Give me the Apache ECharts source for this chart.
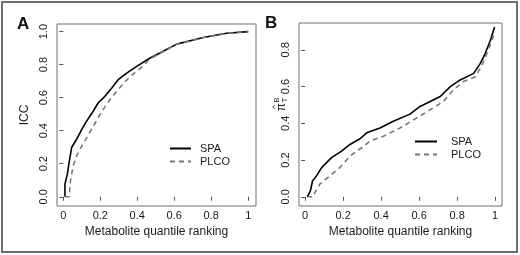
<!DOCTYPE html>
<html>
<head>
<meta charset="utf-8">
<script src="https://cdn.jsdelivr.net/npm/echarts@6/dist/echarts.min.js"></script>
<style>
html, body { margin: 0; padding: 0; background: #fff; }
#chart { width: 520px; height: 255px; }
</style>
</head>
<body>
<div id="chart"></div>
<script>
// panel A: ICC against metabolite quantile ranking
var spaA = [
  [0.009, 0], [0.009, 0.077], [0.022, 0.137], [0.033, 0.217], [0.045, 0.298],
  [0.072, 0.348], [0.1, 0.408], [0.126, 0.458], [0.162, 0.518], [0.189, 0.569],
  [0.225, 0.608], [0.262, 0.659], [0.297, 0.709], [0.343, 0.749], [0.397, 0.789],
  [0.469, 0.84], [0.523, 0.87], [0.613, 0.924], [0.757, 0.964], [0.883, 0.99], [1, 1]
];
var plcoA = [
  [0.009, 0], [0.033, 0], [0.036, 0.077], [0.045, 0.137], [0.054, 0.187],
  [0.072, 0.247], [0.1, 0.307], [0.137, 0.378], [0.173, 0.448], [0.209, 0.518],
  [0.246, 0.578], [0.282, 0.629], [0.327, 0.689], [0.373, 0.739], [0.419, 0.78],
  [0.469, 0.835], [0.523, 0.868], [0.613, 0.924], [0.757, 0.964], [0.883, 0.99], [1, 1]
];
// panel B: pi hat B T against metabolite quantile ranking
var spaB = [
  [0.011, 0], [0.028, 0.032], [0.039, 0.086], [0.06, 0.114], [0.087, 0.159],
  [0.139, 0.213], [0.192, 0.249], [0.236, 0.285], [0.289, 0.316], [0.324, 0.348],
  [0.394, 0.375], [0.464, 0.411], [0.552, 0.45], [0.605, 0.492], [0.711, 0.546],
  [0.764, 0.6], [0.816, 0.636], [0.887, 0.672], [0.922, 0.726], [0.948, 0.781],
  [0.975, 0.852], [0.997, 0.924]
];
var plcoB = [
  [0.011, 0], [0.044, 0], [0.051, 0.023], [0.078, 0.069], [0.13, 0.114],
  [0.183, 0.159], [0.236, 0.222], [0.298, 0.267], [0.341, 0.303], [0.412, 0.33],
  [0.5, 0.375], [0.605, 0.44], [0.728, 0.519], [0.781, 0.582], [0.834, 0.627],
  [0.896, 0.654], [0.931, 0.717], [0.96, 0.789], [0.984, 0.852], [0.996, 0.897]
];
var xTicks = [0, 0.2, 0.4, 0.6, 0.8, 1];
var yTicksA = [0, 0.2, 0.4, 0.6, 0.8, 1];
var yTicksB = [0, 0.2, 0.4, 0.6, 0.8];

var font = 'Liberation Sans, Arial, sans-serif';
var ink = '#1a1a1a';
var boxColor = '#707070';

var chart = echarts.init(document.getElementById('chart'));

function xAxisFor(grid, mn, mx) {
  return {
    gridIndex: grid, type: 'value', min: mn, max: mx,
    name: 'Metabolite quantile ranking', nameLocation: 'middle', nameGap: 16,
    nameTextStyle: { fontFamily: font, fontSize: 12, color: ink },
    axisLine: { show: false },
    splitLine: { show: false },
    axisTick: { show: true, customValues: xTicks, length: 4, lineStyle: { color: '#555' } },
    axisLabel: {
      customValues: xTicks, margin: 4, fontFamily: font, fontSize: 11, color: ink,
      formatter: function (v) { return (v === 0 || v === 1) ? String(v) : v.toFixed(1); }
    }
  };
}
function yAxisFor(grid, mn, mx, ticks, name) {
  return {
    gridIndex: grid, type: 'value', min: mn, max: mx,
    name: name, nameLocation: 'middle', nameGap: 26, nameRotate: 90,
    nameTextStyle: { fontFamily: font, fontSize: 12, color: ink },
    axisLine: { show: false },
    splitLine: { show: false },
    axisTick: { show: true, customValues: ticks, length: 4, lineStyle: { color: '#555' } },
    axisLabel: {
      customValues: ticks, rotate: 90, margin: 8, fontFamily: font, fontSize: 11, color: ink,
      formatter: function (v) { return v.toFixed(1); }
    }
  };
}

var option = {
  backgroundColor: '#fff',
  animation: false,
  grid: [
    { left: 57, top: 24, width: 199, height: 182, show: true, borderColor: boxColor, borderWidth: 1, backgroundColor: 'transparent' },
    { left: 299, top: 23, width: 203, height: 183, show: true, borderColor: boxColor, borderWidth: 1, backgroundColor: 'transparent' }
  ],
  xAxis: [xAxisFor(0, -0.034, 1.042), xAxisFor(1, -0.032, 1.036)],
  yAxis: [yAxisFor(0, -0.056, 1.046, yTicksA, 'ICC'), yAxisFor(1, -0.05, 0.946, yTicksB, '')],
  legend: [
    {
      data: ['SPA', 'PLCO'], orient: 'vertical', left: 164, top: 138,
      itemWidth: 21, itemHeight: 10, itemGap: 2, selectedMode: false,
      itemStyle: { opacity: 0 },
      textStyle: { fontFamily: font, fontSize: 11, color: ink, padding: [0, 0, 0, 4] }
    },
    {
      data: ['SPA', 'PLCO'], orient: 'vertical', left: 409, top: 131,
      itemWidth: 22, itemHeight: 10, itemGap: 2, selectedMode: false,
      itemStyle: { opacity: 0 },
      textStyle: { fontFamily: font, fontSize: 11, color: ink, padding: [0, 0, 0, 9] }
    }
  ],
  series: [
    { name: 'SPA', type: 'line', xAxisIndex: 0, yAxisIndex: 0, data: spaA, symbol: 'none', z: 3,
      lineStyle: { color: '#000', width: 1.6 }, itemStyle: { color: '#000' } },
    { name: 'PLCO', type: 'line', xAxisIndex: 0, yAxisIndex: 0, data: plcoA, symbol: 'none',
      lineStyle: { color: '#777', width: 1.6, type: [5, 4] }, itemStyle: { color: '#777' } },
    { name: 'SPA', type: 'line', xAxisIndex: 1, yAxisIndex: 1, data: spaB, symbol: 'none', z: 3,
      lineStyle: { color: '#000', width: 1.6 }, itemStyle: { color: '#000' } },
    { name: 'PLCO', type: 'line', xAxisIndex: 1, yAxisIndex: 1, data: plcoB, symbol: 'none',
      lineStyle: { color: '#777', width: 1.6, type: [5, 4] }, itemStyle: { color: '#777' } }
  ],
  graphic: [
    { type: 'rect', shape: { x: 2, y: 2, width: 515, height: 250 }, silent: true,
      style: { fill: 'none', stroke: '#6e6e6e', lineWidth: 2 } },
    { type: 'text', left: 17, top: 16, style: { text: 'A', font: 'bold 17px ' + font, fill: '#111' } },
    { type: 'text', left: 265, top: 15, style: { text: 'B', font: 'bold 17px ' + font, fill: '#111' } },
    // rotated axis title pi hat, superscript B, subscript T
    { type: 'group', x: 282, y: 107, rotation: Math.PI / 2, children: [
      { type: 'text', x: 0, y: 0, style: { text: 'π', font: '12px ' + font, fill: ink, align: 'center', verticalAlign: 'middle' } },
      { type: 'text', x: 0, y: -7, style: { text: '^', font: '8px ' + font, fill: ink, align: 'center', verticalAlign: 'middle' } },
      { type: 'text', x: 7, y: -5, style: { text: 'B', font: '8px ' + font, fill: ink, align: 'center', verticalAlign: 'middle' } },
      { type: 'text', x: 7, y: 3, style: { text: 'T', font: '8px ' + font, fill: ink, align: 'center', verticalAlign: 'middle' } }
    ] }
  ]
};
chart.setOption(option);
</script>
</body>
</html>
